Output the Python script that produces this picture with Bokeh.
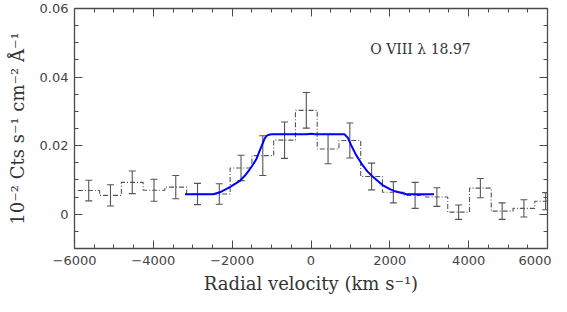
from bokeh.plotting import figure
from bokeh.models import (Range1d, FixedTicker, LinearAxis, Whisker, TeeHead,
                          ColumnDataSource, CustomJSTickFormatter, CustomLabelingPolicy)
from bokeh.core.properties import value
from bokeh.embed import file_html
from bokeh.resources import INLINE

# ---- data ----
bin_width = 552
bin_centers = [-5639, -5087, -4535, -3983, -3431, -2879, -2327, -1775, -1223, -671,
               -119, 433, 985, 1537, 2089, 2641, 3193, 3745, 4297, 4849, 5401, 5953]
flux = [0.0069, 0.0055, 0.0093, 0.0070, 0.0079, 0.0059, 0.0059, 0.0135, 0.0171, 0.0216,
        0.0303, 0.0190, 0.0215, 0.0110, 0.0064, 0.0055, 0.0050, 0.0006, 0.0076, 0.0009,
        0.0017, 0.0038]
flux_err = [0.0030, 0.0031, 0.0033, 0.0032, 0.0034, 0.0031, 0.0030, 0.0037, 0.0058, 0.0053,
            0.0052, 0.0043, 0.0051, 0.0039, 0.0031, 0.0038, 0.0027, 0.0021, 0.0028, 0.0024,
            0.0025, 0.0025]

model_v = [-3196, -2480, -2312, -2059, -1807, -1680, -1554, -1470, -1385, -1320, -1258,
           -1175, -1130, -1091, -1000, -500, -100, 0, 100, 500, 846, 930, 1016, 1142,
           1309, 1430, 1562, 1814, 2000, 2153, 2405, 2700, 3120]
model_flux = [0.0058, 0.0058, 0.0064, 0.0079, 0.0097, 0.0112, 0.0131, 0.0145, 0.0161, 0.0180,
              0.0197, 0.0221, 0.0228, 0.0231, 0.0233, 0.0233, 0.0233, 0.0235, 0.0233, 0.0233,
              0.0233, 0.0224, 0.0202, 0.0173, 0.0143, 0.0125, 0.0110, 0.0085, 0.0073, 0.0066,
              0.0059, 0.0058, 0.0058]

x_major = [-6000, -4000, -2000, 0, 2000, 4000, 6000]
x_minor = list(range(-6000, 6001, 500))
y_major = [0, 0.02, 0.04, 0.06]
y_minor = [-0.01, -0.005, 0.0, 0.005, 0.01, 0.015, 0.02, 0.025, 0.03, 0.035, 0.04, 0.045,
           0.05, 0.055, 0.06]

line_label = "O VIII \u03bb 18.97"
label_v, label_f = 1503, 0.0481

# ---- figure ----
FG = "#4a4a4a"
p = figure(width=551, height=296, output_backend="svg", toolbar_location=None,
           x_range=Range1d(-6000, 6000), y_range=Range1d(-0.01, 0.06),
           min_border_left=74, min_border_right=4, min_border_top=8, min_border_bottom=46)
p.xgrid.grid_line_color = None
p.ygrid.grid_line_color = None
p.outline_line_color = FG
p.outline_line_width = 1.3
p.background_fill_color = "white"
p.border_fill_color = "white"

xt = FixedTicker(ticks=x_major, minor_ticks=x_minor)
yt = FixedTicker(ticks=y_major, minor_ticks=y_minor)

xfmt = CustomJSTickFormatter(code="return tick < 0 ? '\u2212' + Math.abs(tick) : String(tick);")
yfmt = CustomJSTickFormatter(code="return tick == 0 ? '0' : tick.toFixed(2);")
blank_fmt = CustomJSTickFormatter(code="return '';")
no_labels = CustomLabelingPolicy(code="return new Set()")


def style_axis(ax, ticker, show_labels):
    ax.ticker = ticker
    ax.axis_line_color = FG
    ax.major_tick_line_color = FG
    ax.minor_tick_line_color = FG
    ax.major_tick_in = 8
    ax.major_tick_out = 0
    ax.minor_tick_in = 4
    ax.minor_tick_out = 0
    if show_labels:
        ax.major_label_text_font = "DejaVu Sans"
        ax.major_label_text_font_size = "13px"
        ax.major_label_text_color = "#444444"
    else:
        ax.formatter = blank_fmt
        ax.major_label_policy = no_labels
        ax.major_label_standoff = 0


style_axis(p.xaxis[0], xt, True)
p.xaxis[0].formatter = xfmt
p.xaxis[0].major_label_standoff = 7
p.xaxis[0].axis_label = "Radial velocity (km s\u207b\u00b9)"
p.xaxis[0].axis_label_text_font = "DejaVu Serif"
p.xaxis[0].axis_label_text_font_style = "normal"
p.xaxis[0].axis_label_text_font_size = "18px"
p.xaxis[0].axis_label_text_color = "#333333"
p.xaxis[0].axis_label_standoff = 5

style_axis(p.yaxis[0], yt, True)
p.yaxis[0].formatter = yfmt
p.yaxis[0].major_label_standoff = 6
p.yaxis[0].axis_label = "10\u207b\u00b2 Cts s\u207b\u00b9 cm\u207b\u00b2 \u00c5\u207b\u00b9"
p.yaxis[0].axis_label_text_font = "DejaVu Serif"
p.yaxis[0].axis_label_text_font_style = "normal"
p.yaxis[0].axis_label_text_font_size = "18px"
p.yaxis[0].axis_label_text_color = "#333333"
p.yaxis[0].axis_label_standoff = 9

top = LinearAxis()
style_axis(top, xt, False)
p.add_layout(top, "above")
right = LinearAxis()
style_axis(right, yt, False)
p.add_layout(right, "right")

# histogram (full-width bins)
edges = [c - bin_width / 2 for c in bin_centers] + [bin_centers[-1] + bin_width / 2]
p.step(x=edges, y=flux + [flux[-1]], mode="after", line_color="#555555",
       line_width=1.1, line_dash="5 2 1 2")

# error bars
src = ColumnDataSource(dict(x=bin_centers,
                            lo=[f - e for f, e in zip(flux, flux_err)],
                            hi=[f + e for f, e in zip(flux, flux_err)]))
wk = Whisker(base="x", lower="lo", upper="hi", source=src, line_color="#555555",
             line_width=1.1,
             upper_head=TeeHead(size=7, line_color="#555555", line_width=1.1),
             lower_head=TeeHead(size=7, line_color="#555555", line_width=1.1))
p.add_layout(wk)

# model
p.line(model_v, model_flux, line_color="#0000ff", line_width=2)

# annotation
p.text(x=[label_v], y=[label_f], text=[line_label], text_font=value("DejaVu Serif"),
       text_font_size="14px", text_color="#333333", text_baseline="middle",
       text_align="left")

open("out.html", "w").write(file_html(p, INLINE))
